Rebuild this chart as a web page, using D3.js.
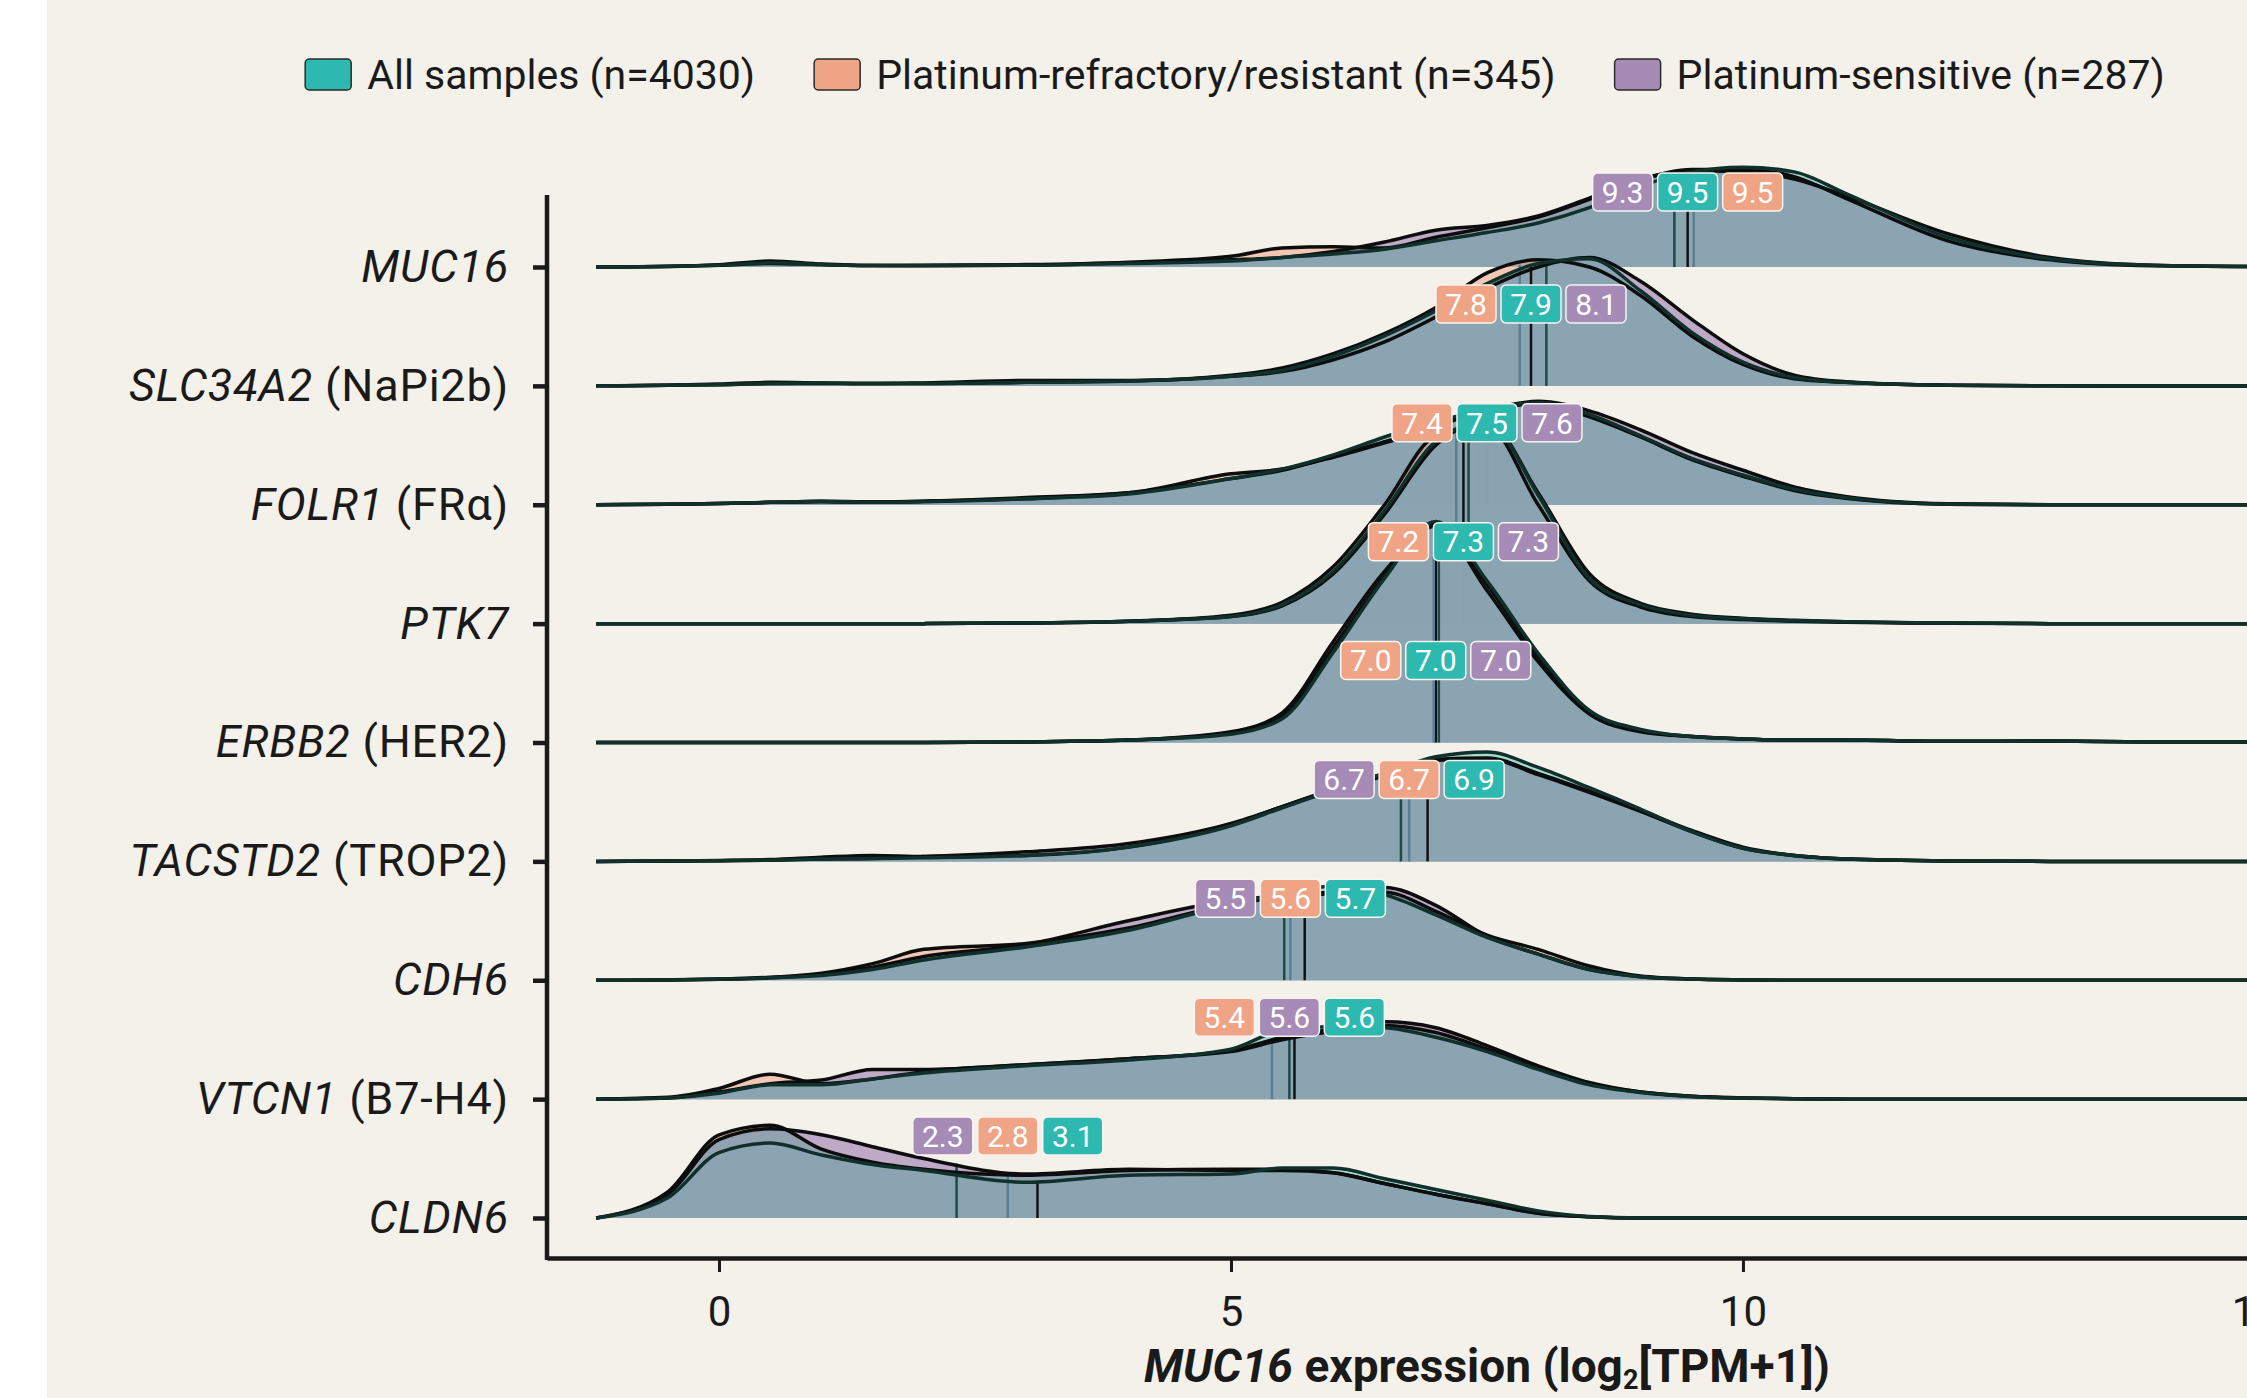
<!DOCTYPE html>
<html>
<head>
<meta charset="utf-8">
<script src="https://cdn.jsdelivr.net/npm/d3@7"></script>
<style>
  body { margin: 0; background: #fff; }
  svg { display: block; font-family: Roboto, "Noto Sans", sans-serif; }
</style>
</head>
<body>
<svg id="chart" width="2247" height="1398"></svg>
<script>
// genes (rows, top to bottom) and protein aliases
const genes = ["MUC16", "SLC34A2", "FOLR1", "PTK7", "ERBB2", "TACSTD2", "CDH6", "VTCN1", "CLDN6"];
const aliases = ["", "NaPi2b", "FRα", "", "HER2", "TROP2", "", "B7-H4", ""];

// groups: all samples, platinum-refractory/resistant, platinum-sensitive
const groupNames = ["All samples (n=4030)", "Platinum-refractory/resistant (n=345)", "Platinum-sensitive (n=287)"];
const groupColors = ["#2db9b0", "#f0a486", "#a68bb7"];

// x positions (log2 TPM+1) where density heights were read
const grid = [-1.2, -0.5, 0, 0.5, 1, 1.5, 2, 3, 4, 5, 5.5, 6, 6.5, 7, 7.5, 8, 8.5, 9, 9.5, 10, 10.5, 11, 12, 13, 14, 15.5];

// density heights, in units of row spacing
const muc16All  = [0,0.005,0.015,0.035,0.02,0.012,0.012,0.015,0.03,0.05,0.08,0.11,0.15,0.22,0.29,0.37,0.5,0.68,0.8,0.84,0.8,0.62,0.25,0.07,0.015,0];
const muc16Ref  = [0,0.005,0.015,0.03,0.02,0.012,0.015,0.02,0.04,0.09,0.16,0.17,0.16,0.25,0.33,0.42,0.57,0.73,0.82,0.82,0.76,0.58,0.22,0.06,0.01,0];
const muc16Sens = [0,0.006,0.02,0.05,0.025,0.012,0.01,0.015,0.035,0.06,0.08,0.13,0.21,0.31,0.35,0.43,0.58,0.74,0.81,0.8,0.74,0.6,0.28,0.08,0.015,0];

const slcAll  = [0,0.005,0.01,0.02,0.025,0.02,0.02,0.03,0.04,0.08,0.13,0.25,0.42,0.63,0.86,1.03,1.07,0.8,0.45,0.2,0.07,0.03,0.005,0,0,0];
const slcRef  = [0,0.005,0.01,0.02,0.02,0.02,0.025,0.045,0.045,0.09,0.15,0.27,0.44,0.66,0.95,1.06,1.0,0.76,0.42,0.18,0.06,0.03,0.005,0,0,0];
const slcSens = [0,0.005,0.015,0.03,0.025,0.02,0.02,0.03,0.04,0.08,0.12,0.22,0.37,0.58,0.82,1.0,1.08,0.88,0.56,0.27,0.09,0.035,0.006,0,0,0];

const folr1All  = [0,0.005,0.01,0.02,0.03,0.02,0.025,0.05,0.09,0.22,0.3,0.42,0.57,0.7,0.8,0.86,0.76,0.58,0.39,0.25,0.13,0.06,0.005,0,0,0];
const folr1Ref  = [0,0.005,0.01,0.02,0.03,0.025,0.03,0.06,0.1,0.26,0.3,0.4,0.52,0.66,0.79,0.85,0.74,0.57,0.38,0.24,0.12,0.055,0.005,0,0,0];
const folr1Sens = [0,0.005,0.01,0.02,0.025,0.02,0.03,0.05,0.1,0.22,0.29,0.41,0.53,0.67,0.8,0.87,0.79,0.63,0.44,0.29,0.15,0.07,0.008,0,0,0];

const ptk7All  = [0,0,0,0,0,0,0,0.005,0.02,0.06,0.16,0.44,0.95,1.53,1.7,1.08,0.38,0.16,0.07,0.04,0.025,0.015,0.005,0,0,0];
const ptk7Ref  = [0,0,0,0,0,0,0,0.005,0.02,0.07,0.18,0.48,1.0,1.58,1.66,1.0,0.36,0.14,0.06,0.035,0.02,0.012,0.004,0,0,0];
const ptk7Sens = [0,0,0,0,0,0,0,0.005,0.02,0.06,0.15,0.42,0.92,1.5,1.7,1.1,0.42,0.17,0.08,0.045,0.028,0.016,0.005,0,0,0];

const erbb2All  = [0,0,0,0,0,0,0,0.005,0.02,0.07,0.2,0.76,1.38,1.86,1.36,0.75,0.27,0.11,0.05,0.03,0.02,0.02,0.01,0.012,0.005,0.005];
const erbb2Ref  = [0,0,0,0,0,0,0,0.005,0.02,0.09,0.25,0.85,1.44,1.82,1.28,0.68,0.24,0.09,0.05,0.03,0.02,0.02,0.01,0.012,0.005,0.005];
const erbb2Sens = [0,0,0,0,0,0,0,0.005,0.02,0.08,0.22,0.8,1.4,1.84,1.33,0.72,0.26,0.1,0.05,0.03,0.02,0.02,0.01,0.012,0.005,0.005];

const tacAll  = [0,0.003,0.006,0.01,0.02,0.025,0.03,0.05,0.12,0.3,0.45,0.6,0.74,0.88,0.92,0.79,0.62,0.44,0.25,0.11,0.05,0.02,0.004,0,0,0];
const tacRef  = [0,0.003,0.008,0.015,0.035,0.05,0.04,0.05,0.12,0.31,0.46,0.6,0.72,0.85,0.86,0.73,0.58,0.42,0.25,0.11,0.05,0.02,0.004,0,0,0];
const tacSens = [0,0.003,0.006,0.01,0.02,0.025,0.04,0.08,0.15,0.32,0.46,0.61,0.74,0.86,0.87,0.74,0.59,0.43,0.26,0.12,0.05,0.02,0.004,0,0,0];

const cdh6All  = [0,0.003,0.008,0.02,0.04,0.09,0.17,0.28,0.42,0.64,0.73,0.79,0.72,0.55,0.36,0.22,0.09,0.03,0.01,0.003,0,0,0,0,0,0];
const cdh6Ref  = [0,0.003,0.01,0.025,0.06,0.14,0.26,0.31,0.44,0.64,0.7,0.74,0.74,0.58,0.38,0.26,0.12,0.035,0.01,0.003,0,0,0,0,0,0];
const cdh6Sens = [0,0.003,0.008,0.02,0.05,0.11,0.2,0.3,0.5,0.67,0.71,0.73,0.78,0.63,0.37,0.22,0.09,0.03,0.01,0.003,0,0,0,0,0,0];

const vtcn1All  = [0,0.01,0.05,0.12,0.12,0.17,0.22,0.28,0.33,0.42,0.58,0.61,0.6,0.52,0.4,0.25,0.12,0.055,0.02,0.008,0.003,0,0,0,0,0];
const vtcn1Ref  = [0,0.015,0.09,0.21,0.13,0.17,0.23,0.29,0.34,0.4,0.5,0.57,0.62,0.56,0.42,0.26,0.13,0.06,0.025,0.01,0.003,0,0,0,0,0];
const vtcn1Sens = [0,0.01,0.06,0.13,0.16,0.25,0.25,0.29,0.34,0.41,0.52,0.59,0.65,0.6,0.45,0.28,0.14,0.06,0.025,0.01,0.003,0,0,0,0,0];

const cldn6All  = [0,0.17,0.55,0.63,0.53,0.45,0.4,0.3,0.36,0.37,0.42,0.42,0.33,0.24,0.15,0.06,0.012,0,0,0,0,0,0,0,0,0];
const cldn6Ref  = [0,0.22,0.7,0.78,0.58,0.47,0.41,0.36,0.4,0.41,0.41,0.38,0.29,0.2,0.12,0.04,0.01,0,0,0,0,0,0,0,0,0];
const cldn6Sens = [0,0.2,0.66,0.75,0.7,0.6,0.5,0.37,0.41,0.4,0.4,0.38,0.29,0.2,0.12,0.04,0.01,0,0,0,0,0,0,0,0,0];

// medians per gene: [all, refractory/resistant, sensitive]
const muc16Med = [9.46, 9.52, 9.33];
const slcMed   = [7.93, 7.82, 8.08];
const folr1Med = [7.5, 7.42, 7.58];
const ptk7Med  = [7.27, 7.2, 7.32];
const erbb2Med = [7.0, 6.98, 7.03];
const tacMed   = [6.92, 6.74, 6.66];
const cdh6Med  = [5.72, 5.58, 5.52];
const vtcn1Med = [5.62, 5.4, 5.57];
const cldn6Med = [3.11, 2.82, 2.32];

const xTicks = [0, 5, 10, 15];

const densities = [
  [muc16All, muc16Ref, muc16Sens],
  [slcAll, slcRef, slcSens],
  [folr1All, folr1Ref, folr1Sens],
  [ptk7All, ptk7Ref, ptk7Sens],
  [erbb2All, erbb2Ref, erbb2Sens],
  [tacAll, tacRef, tacSens],
  [cdh6All, cdh6Ref, cdh6Sens],
  [vtcn1All, vtcn1Ref, vtcn1Sens],
  [cldn6All, cldn6Ref, cldn6Sens],
];
const medians = [muc16Med, slcMed, folr1Med, ptk7Med, erbb2Med, tacMed, cdh6Med, vtcn1Med, cldn6Med];

// styling per group
const fillAlpha = [0.4, 0.55, 0.7];
const outlineColors = ["#10302b", "#0d0d0d", "#0d0d0d"];
const medianColors = ["#111111", "#5b7f92", "#1f4a46"];

const W = 2247, H = 1398;
const svg = d3.select("#chart");

svg.append("rect")
  .attr("x", 47).attr("y", 0)
  .attr("width", W - 47).attr("height", H)
  .attr("fill", "#f4f1ea");

const x = d3.scaleLinear().domain([-1.68, 15.45]).range([547, 2301]);
const y = d3.scalePoint().domain(genes).range([267, 1218]);
const rowH = y.step();

// linear read of a density at value v (for median line heights)
const hAt = (arr, v) => {
  const k = d3.bisectRight(grid, v);
  if (k <= 0) return arr[0];
  if (k >= grid.length) return arr[arr.length - 1];
  const t = (v - grid[k - 1]) / (grid[k] - grid[k - 1]);
  return arr[k - 1] + t * (arr[k] - arr[k - 1]);
};

const areaAt = (base) => d3.area()
  .x((d, k) => x(grid[k]))
  .y0(base)
  .y1((d) => base - d * rowH)
  .curve(d3.curveMonotoneX);

const lineAt = (base) => d3.line()
  .x((d, k) => x(grid[k]))
  .y((d) => base - d * rowH)
  .curve(d3.curveMonotoneX);

const plot = svg.append("g");

// ridges, top row first so lower rows sit on top
genes.forEach((gene, i) => {
  const base = y(gene);
  const dens = densities[i];
  const g = plot.append("g");

  [1, 2, 0].forEach((j) => {
    g.append("path")
      .attr("d", areaAt(base)(dens[j]))
      .attr("fill", groupColors[j])
      .attr("fill-opacity", fillAlpha[j]);
  });

  // shared part of the three densities
  const mid = grid.map((_, k) => d3.median(dens, (d) => d[k]));
  g.append("path")
    .attr("d", areaAt(base)(mid))
    .attr("fill", "#8ca3b1")
    .attr("fill-opacity", 0.88);

  medians[i].forEach((m, j) => {
    g.append("line")
      .attr("x1", x(m)).attr("x2", x(m))
      .attr("y1", base)
      .attr("y2", base - hAt(dens[j], m) * rowH)
      .attr("stroke", medianColors[j])
      .attr("stroke-width", 2.5);
  });

  [1, 2, 0].forEach((j) => {
    g.append("path")
      .attr("d", lineAt(base)(dens[j]))
      .attr("fill", "none")
      .attr("stroke", outlineColors[j])
      .attr("stroke-width", 3.5)
      .attr("stroke-linejoin", "round");
  });
});

// y axis
const yAxis = svg.append("g")
  .attr("transform", "translate(547,0)")
  .call(d3.axisLeft(y).tickSize(14).tickPadding(24));
yAxis.select(".domain").remove();
yAxis.selectAll(".tick line").attr("stroke", "#1a1a1a").attr("stroke-width", 4.5);
yAxis.append("line")
  .attr("x1", 0).attr("x2", 0)
  .attr("y1", 195).attr("y2", 1260)
  .attr("stroke", "#1a1a1a")
  .attr("stroke-width", 4.5);
yAxis.selectAll(".tick text")
  .attr("font-size", 45)
  .attr("letter-spacing", 0.8)
  .attr("font-family", "Roboto, sans-serif")
  .attr("fill", "#1a1a1a")
  .each(function (d) {
    const t = d3.select(this).text(null);
    t.append("tspan").attr("font-style", "italic").text(d);
    const a = aliases[genes.indexOf(d)];
    if (a) t.append("tspan").text(" (" + a + ")");
  });

// x axis
const xAxis = svg.append("g")
  .attr("transform", "translate(0,1258)")
  .call(d3.axisBottom(x).tickValues(xTicks).tickSize(14).tickSizeOuter(0).tickPadding(24));
xAxis.select(".domain").attr("stroke", "#1a1a1a").attr("stroke-width", 4.5);
xAxis.selectAll(".tick line").attr("stroke", "#1a1a1a").attr("stroke-width", 3);
xAxis.selectAll(".tick text")
  .attr("font-size", 42)
  .attr("font-family", "Roboto, sans-serif")
  .attr("fill", "#1a1a1a");

const xTitle = svg.append("text")
  .attr("x", 1487).attr("y", 1382)
  .attr("text-anchor", "middle")
  .attr("font-size", 46)
  .attr("font-weight", "bold")
  .attr("fill", "#1a1a1a");
xTitle.append("tspan").attr("font-style", "italic").text("MUC16");
xTitle.append("tspan").text(" expression (log");
xTitle.append("tspan").attr("font-size", 27).attr("dy", 7).text("2");
xTitle.append("tspan").attr("dy", -7).text("[TPM+1])");

// median labels
const fmt = d3.format(".1f");
genes.forEach((gene, i) => {
  const items = medians[i].map((v, j) => ({ v, j })).sort((a, b) => a.v - b.v);
  const cx = x(items[1].v);
  const cy = y(gene) - (i === 0 ? 75 : 82);
  const lg = svg.append("g");
  items.forEach((it, k) => {
    const bx = cx + (k - 1) * 65;
    lg.append("rect")
      .attr("x", bx - 30).attr("y", cy - 19)
      .attr("width", 60).attr("height", 38)
      .attr("rx", 5)
      .attr("fill", groupColors[it.j])
      .attr("stroke", "#f7f4ef")
      .attr("stroke-width", 1.5);
    lg.append("text")
      .attr("x", bx).attr("y", cy)
      .attr("dy", "0.36em")
      .attr("text-anchor", "middle")
      .attr("font-size", 30)
      .attr("fill", "#fff")
      .text(fmt(it.v));
  });
});

// legend
const legend = svg.append("g");
const items = groupNames.map((name, j) => {
  const g = legend.append("g");
  g.append("rect")
    .attr("x", 0).attr("y", -16)
    .attr("width", 46).attr("height", 31)
    .attr("rx", 4)
    .attr("fill", groupColors[j])
    .attr("stroke", "#2a2a2a")
    .attr("stroke-width", 1.5);
  const t = g.append("text")
    .attr("x", 62).attr("y", 0)
    .attr("dy", "0.35em")
    .attr("font-size", 41)
    .attr("fill", "#1a1a1a")
    .text(name);
  return { g, w: 62 + t.node().getComputedTextLength() };
});
const gap = 59;
const total = d3.sum(items, (d) => d.w) + gap * (items.length - 1);
let lx = 1235 - total / 2;
items.forEach((it) => {
  it.g.attr("transform", `translate(${lx},75)`);
  lx += it.w + gap;
});
</script>
</body>
</html>
